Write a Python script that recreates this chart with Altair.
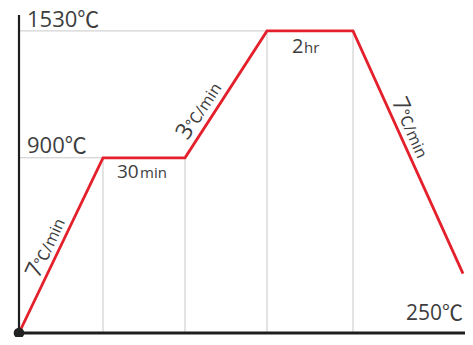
import altair as alt
import pandas as pd

# Firing profile (x: time position along the schedule, y: temperature in degC)
times = [0, 84, 166, 248, 334, 444]
temps = [30, 900, 900, 1530, 1530, 325]

X_MAX = 446
Y_MIN = 30
Y_MAX = 1609

RED = "#e3202b"
GRAY = "#c9c9c9"
INK = "#3d3d3d"
AXIS = "#1e1e1e"
FONT = "Open Sans, Noto Sans CJK SC"

xs = alt.Scale(domain=[0, X_MAX], nice=False, zero=False)
ys = alt.Scale(domain=[Y_MIN, Y_MAX], nice=False, zero=False)

one = pd.DataFrame({"k": [0]})


def X(v):
    return alt.XDatum(v, type="quantitative", scale=xs, axis=None)


def Y(v):
    return alt.YDatum(v, type="quantitative", scale=ys, axis=None)


def vrule(x, y0, y1, color, width):
    return alt.Chart(one).mark_rule(color=color, strokeWidth=width).encode(
        x=X(x), y=Y(y0), y2=alt.Y2Datum(y1))


def hrule(y, x0, x1, color, width):
    return alt.Chart(one).mark_rule(color=color, strokeWidth=width).encode(
        y=Y(y), x=X(x0), x2=alt.X2Datum(x1))


def label(text, x, y, size, dx=0, dy=0, align="left", angle=0):
    return alt.Chart(one).mark_text(
        text=text, fontSize=size, font=FONT, color=INK, align=align,
        baseline="alphabetic", dx=dx, dy=dy, angle=angle,
    ).encode(x=X(x), y=Y(y))


layers = []

# gray guides
layers.append(hrule(temps[1], 0, times[1], GRAY, 1))
layers.append(hrule(temps[3], 0, times[3], GRAY, 1))
for i in range(1, 5):
    layers.append(vrule(times[i], Y_MIN, temps[i], GRAY, 1))

# axes
layers.append(vrule(0, Y_MIN, Y_MAX, AXIS, 2.2))
layers.append(hrule(Y_MIN, 0, X_MAX, AXIS, 2.8))

# profile line
profile = pd.DataFrame({"t": times, "T": temps})
layers.append(
    alt.Chart(profile).mark_line(color=RED, strokeWidth=2.8, strokeJoin="miter").encode(
        x=alt.X("t:Q", scale=xs, axis=None),
        y=alt.Y("T:Q", scale=ys, axis=None),
        order="t:Q",
    )
)

# start dot
layers.append(
    alt.Chart(one).mark_circle(color="#222222", opacity=1, size=115).encode(
        x=X(times[0]), y=Y(temps[0]))
)

# temperature labels
layers.append(label("1530℃", 0, temps[3], 22, dx=8, dy=-4))
layers.append(label("900℃", 0, temps[1], 22, dx=8, dy=-5))
layers.append(label("250℃", times[5], temps[5], 21, dx=0, dy=46, align="right"))

# hold labels
layers.append(label("30", times[1], temps[1], 19, dx=14, dy=20))
layers.append(label("min", times[1], temps[1], 15, dx=37, dy=20))
layers.append(label("2", times[3], temps[3], 20, dx=25, dy=22))
layers.append(label("hr", times[3], temps[3], 15, dx=37, dy=22))

# ramp labels (anchored at segment midpoints, offsets along the rotated text)
m1 = ((times[0] + times[1]) / 2, (temps[0] + temps[1]) / 2)
m2 = ((times[2] + times[3]) / 2, (temps[2] + temps[3]) / 2)
m3 = ((times[4] + times[5]) / 2, (temps[4] + temps[5]) / 2)

layers.append(label("7", m1[0], m1[1], 23, dx=-40, dy=-6, angle=294.7))
layers.append(label("℃/min", m1[0], m1[1], 16, dx=-27, dy=-6, angle=294.7))

layers.append(label("3", m2[0], m2[1], 23, dx=-60, dy=-7, angle=302.8))
layers.append(label("℃/min", m2[0], m2[1], 16, dx=-47, dy=-7, angle=302.8))

layers.append(label("7", m3[0], m3[1], 23, dx=-53, dy=-6, angle=65.6))
layers.append(label("℃/min", m3[0], m3[1], 16, dx=-40, dy=-6, angle=65.6))

chart = alt.layer(*layers).properties(
    width=X_MAX,
    height=318,
    padding={"left": 11, "top": 7, "right": 0, "bottom": 4},
    autosize=alt.AutoSizeParams(type="none"),
).configure_view(stroke=None)

chart.save("out.html", embed_options={"renderer": "svg", "actions": False})
